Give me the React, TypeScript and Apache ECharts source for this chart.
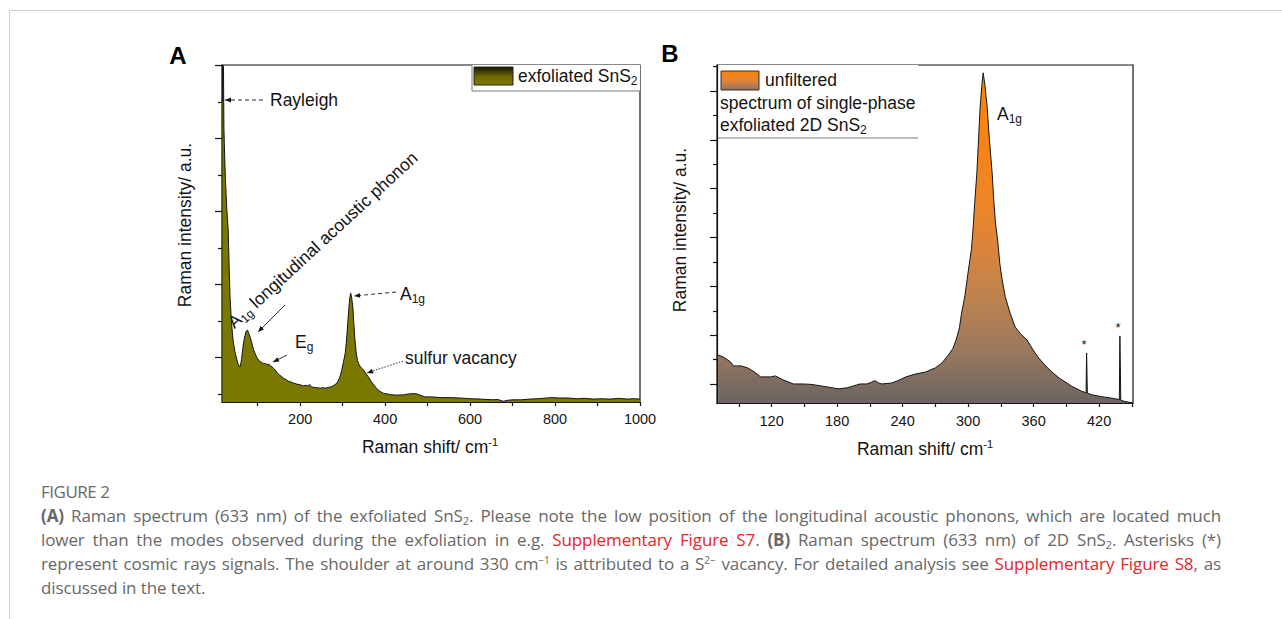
import React, { useEffect, useRef } from "react";
import * as echarts from "echarts";

// ---------- Panel A: exfoliated SnS2 (Raman shift cm-1, intensity a.u.) ----------
const shiftA = [17, 18.5, 19.5, 20.5, 22, 24, 27, 30.6, 33, 35, 38, 42, 46, 49.4, 53, 56, 59, 62, 64.5, 66.6, 70, 73, 76, 79, 82, 86, 90, 94, 98, 102, 106, 110, 114, 118, 122, 126, 130, 134, 138, 141, 146, 151, 156, 160, 166, 172, 178, 184, 192, 200, 208, 214, 218, 222, 226, 232, 240, 247, 254, 260, 266, 271, 276, 281, 287, 292, 295, 298, 302, 306, 309, 312, 315, 317, 319, 321, 324, 326, 329, 332, 335, 337, 341, 345, 349, 355, 361, 367, 373, 380, 388, 396, 405, 415, 425, 435, 445, 455, 466, 475, 484, 494, 510, 530, 550, 576, 600, 625, 654, 665, 678, 690, 701, 720, 740, 760, 780, 796, 810, 830, 850, 870, 890, 910, 930, 950, 970, 985, 1000];
const intensityA = [8.0, 9.0, 8.9, 7.3, 6.6, 5.9, 5.12, 4.49, 3.4, 2.66, 2.0, 1.48, 1.18, 1.01, 0.85, 0.77, 0.75, 0.95, 1.2, 1.39, 1.6, 1.72, 1.75, 1.66, 1.57, 1.4, 1.22, 1.11, 1.0, 0.93, 0.89, 0.86, 0.83, 0.84, 0.8, 0.82, 0.77, 0.74, 0.7, 0.66, 0.58, 0.52, 0.48, 0.44, 0.4, 0.35, 0.33, 0.3, 0.27, 0.25, 0.22, 0.24, 0.22, 0.26, 0.2, 0.18, 0.17, 0.16, 0.17, 0.16, 0.18, 0.19, 0.21, 0.25, 0.3, 0.42, 0.52, 0.66, 0.88, 1.11, 1.45, 1.94, 2.4, 2.65, 2.76, 2.65, 2.39, 2.0, 1.48, 1.12, 0.92, 0.84, 0.76, 0.7, 0.66, 0.56, 0.46, 0.35, 0.25, 0.15, 0.07, 0.02, 0.0, -0.02, -0.03, -0.03, -0.02, 0.0, 0.01, 0.0, -0.04, -0.08, -0.08, -0.1, -0.1, -0.11, -0.13, -0.14, -0.16, -0.15, -0.2, -0.17, -0.16, -0.16, -0.14, -0.13, -0.11, -0.1, -0.11, -0.11, -0.13, -0.12, -0.14, -0.13, -0.14, -0.12, -0.14, -0.13, -0.14];

// ---------- Panel B: single-phase exfoliated 2D SnS2 ----------
const shiftB = [71, 76, 82.5, 85, 92, 98, 104, 110, 119, 123.5, 131, 140, 149, 157, 165, 171, 181, 189, 195, 201, 207, 211, 214.5, 218, 221, 230, 236, 243, 252, 261, 270, 276, 282, 286, 289, 292, 294, 297, 299, 301, 303, 304.6, 306, 308, 309.5, 311, 312.5, 313.8, 315.5, 317.4, 319.5, 322, 323.5, 325, 327, 329, 331, 334, 338.5, 343, 348, 354, 359.5, 364, 368.6, 373, 377.8, 384, 390.5, 395, 399.7, 404, 408, 408.5, 409.2, 414, 422, 430, 438.5, 439, 439.8, 442, 451];
const intensityB = [1.19, 1.1, 0.9, 0.74, 0.74, 0.66, 0.5, 0.29, 0.29, 0.33, 0.16, 0.0, 0.0, -0.02, -0.08, -0.12, -0.2, -0.16, -0.08, 0.0, 0.0, 0.06, 0.14, 0.04, 0.0, 0.04, 0.14, 0.29, 0.41, 0.49, 0.66, 0.86, 1.19, 1.45, 1.8, 2.3, 2.9, 3.6, 4.26, 4.9, 5.5, 6.4, 7.4, 8.65, 10.0, 11.35, 12.2, 12.75, 12.2, 11.35, 10.0, 8.65, 7.5, 6.6, 5.9, 4.95, 4.3, 3.57, 2.9, 2.34, 2.05, 1.8, 1.39, 1.1, 0.86, 0.65, 0.45, 0.22, 0.04, -0.1, -0.2, -0.3, -0.36, 1.27, -0.38, -0.45, -0.52, -0.57, -0.64, 1.97, -0.66, -0.7, -0.78];

// ---------- Axis ticks ----------
const labelsA = [200, 400, 600, 800, 1000];
const ticksXA = [100, 200, 300, 400, 500, 600, 700, 800, 900, 1000];
const majorYA = [1, 3, 5, 7, 9];
const minorYA = [0, 2, 4, 6, 8];
const labelsB = [120, 180, 240, 300, 360, 420];
const ticksXB = [90, 120, 150, 180, 210, 240, 270, 300, 330, 360, 390, 420, 450];
const majorYB = [0, 2, 4, 6, 8, 10, 12];
const minorYB = [1, 3, 5, 7, 9, 11, 13];

const FONT = "Liberation Sans, Arial, sans-serif";
const INK = "#141414";
const FS = 17.5;

function arrowHead(x1: number, y1: number, x2: number, y2: number, len = 6, half = 2.4) {
  const dx = x2 - x1, dy = y2 - y1;
  const L = Math.sqrt(dx * dx + dy * dy);
  const ux = dx / L, uy = dy / L;
  const bx = x2 - ux * len, by = y2 - uy * len;
  return {
    type: "polygon",
    shape: { points: [[x2, y2], [bx - uy * half, by + ux * half], [bx + uy * half, by - ux * half]] },
    style: { fill: INK },
    silent: true,
  };
}
function arrowLine(x1: number, y1: number, x2: number, y2: number, dash?: number[]) {
  return [
    { type: "line", shape: { x1, y1, x2, y2 }, style: { stroke: INK, lineWidth: 0.9, lineDash: dash || null }, silent: true },
    arrowHead(x1, y1, x2, y2),
  ];
}
const richBase = {
  a: { fontSize: FS, fontFamily: FONT, fill: INK, lineHeight: 22 },
  s: { fontSize: 12, fontFamily: FONT, fill: INK, lineHeight: 10, verticalAlign: "bottom" },
  p: { fontSize: 11, fontFamily: FONT, fill: INK, lineHeight: 11, verticalAlign: "top" },
};
function rtext(x: number, y: number, text: string, extra: any = {}) {
  return {
    type: "text",
    x, y,
    silent: true,
    ...extra,
    style: { text, rich: richBase, fontSize: FS, fontFamily: FONT, fill: INK, align: "left", verticalAlign: "middle", ...(extra.style || {}) },
  };
}

export default function App() {
  const ref = useRef<HTMLDivElement>(null);
  useEffect(() => {
    if (!ref.current) return;
    const chart = echarts.init(ref.current, null, { renderer: "svg" });
    const axisLineStyle = { color: INK, width: 1.2 };
    const xBase = (gridIndex: number, min: number, max: number, labels: number[], ticks: number[], margin: number) => ({
      type: "value", gridIndex, min, max,
      axisLine: { show: true, onZero: false, lineStyle: axisLineStyle },
      axisTick: { show: true, customValues: ticks, length: 4, lineStyle: axisLineStyle },
      axisLabel: { show: true, customValues: labels, color: INK, fontSize: 14.5, fontFamily: FONT, margin, formatter: (v: number) => String(v) },
      splitLine: { show: false },
    });
    const yBase = (gridIndex: number, min: number, max: number, ticks: number[], len: number, line: boolean) => ({
      type: "value", gridIndex, min, max, position: "left", offset: 0,
      axisLine: { show: line, onZero: false, lineStyle: axisLineStyle },
      axisTick: { show: true, customValues: ticks, length: len, lineStyle: axisLineStyle },
      axisLabel: { show: false },
      splitLine: { show: false },
    });
    const gradB = new echarts.graphic.LinearGradient(0, 0, 0, 1, [
      { offset: 0, color: "#ff8200" },
      { offset: 0.4, color: "#ee8529" },
      { offset: 0.65, color: "#c4844a" },
      { offset: 0.85, color: "#98775e" },
      { offset: 1, color: "#6b6462" },
    ]);
    const option: any = {
      animation: false,
      grid: [
        { left: 222, top: 65, width: 418, height: 337, show: true, borderColor: INK, borderWidth: 1.2, backgroundColor: "transparent" },
        { left: 717, top: 65, width: 416, height: 338, show: true, borderColor: INK, borderWidth: 1.2, backgroundColor: "transparent" },
      ],
      xAxis: [xBase(0, 16, 1000, labelsA, ticksXA, 9), xBase(1, 70, 451, labelsB, ticksXB, 10)],
      yAxis: [
        yBase(0, -0.22, 9.01, majorYA, 7, true),
        yBase(0, -0.22, 9.01, minorYA, 4, false),
        yBase(1, -0.78, 13.07, majorYB, 7, true),
        yBase(1, -0.78, 13.07, minorYB, 4, false),
      ],
      series: [
        {
          type: "line", xAxisIndex: 0, yAxisIndex: 0,
          data: shiftA.map((x, i) => [x, intensityA[i]]),
          symbol: "none", showSymbol: false,
          lineStyle: { color: INK, width: 1 },
          areaStyle: { color: "#7b7800", opacity: 1, origin: "start" },
        },
        {
          type: "line", xAxisIndex: 1, yAxisIndex: 2,
          data: shiftB.map((x, i) => [x, intensityB[i]]),
          symbol: "none", showSymbol: false,
          lineStyle: { color: INK, width: 1 },
          areaStyle: { color: gradB, opacity: 1, origin: "start" },
        },
      ],
      graphic: [
        // panel letters
        { type: "text", x: 178, y: 55, silent: true, style: { text: "A", font: "bold 24px " + FONT, fill: "#000", align: "center", verticalAlign: "middle" } },
        { type: "text", x: 670, y: 53, silent: true, style: { text: "B", font: "bold 24px " + FONT, fill: "#000", align: "center", verticalAlign: "middle" } },
        // axis titles
        { type: "text", x: 185, y: 225, rotation: Math.PI / 2, silent: true, style: { text: "Raman intensity/ a.u.", fontSize: FS, fontFamily: FONT, fill: INK, align: "center", verticalAlign: "middle" } },
        { type: "text", x: 680, y: 230, rotation: Math.PI / 2, silent: true, style: { text: "Raman intensity/ a.u.", fontSize: FS, fontFamily: FONT, fill: INK, align: "center", verticalAlign: "middle" } },
        rtext(430, 447, "{a|Raman shift/ cm}{p|-1}", { style: { align: "center" } }),
        rtext(925, 449, "{a|Raman shift/ cm}{p|-1}", { style: { align: "center" } }),
        // legend A
        { type: "rect", shape: { x: 472, y: 65, width: 168, height: 26 }, style: { fill: "#fff" }, silent: true },
        { type: "line", shape: { x1: 472, y1: 65, x2: 472, y2: 91 }, style: { stroke: "#7a7a7a", lineWidth: 1 }, silent: true },
        { type: "line", shape: { x1: 472, y1: 91, x2: 640, y2: 91 }, style: { stroke: "#7a7a7a", lineWidth: 1 }, silent: true },
        {
          type: "rect", shape: { x: 474, y: 67, width: 39, height: 18 }, silent: true,
          style: { fill: new echarts.graphic.LinearGradient(0, 0, 0, 1, [{ offset: 0, color: "#151500" }, { offset: 0.55, color: "#6f6c00" }, { offset: 1, color: "#7d7a00" }]), stroke: "#222", lineWidth: 1 },
        },
        rtext(518, 76, "{a|exfoliated SnS}{s|2}"),
        // legend B
        { type: "rect", shape: { x: 717, y: 65, width: 201, height: 73 }, style: { fill: "#fff" }, silent: true },
        { type: "line", shape: { x1: 717, y1: 138, x2: 918, y2: 138 }, style: { stroke: "#7a7a7a", lineWidth: 1 }, silent: true },
        {
          type: "rect", shape: { x: 721, y: 71, width: 38, height: 19 }, silent: true,
          style: { fill: new echarts.graphic.LinearGradient(0, 0, 0, 1, [{ offset: 0, color: "#ff8200" }, { offset: 0.5, color: "#e2843a" }, { offset: 1, color: "#8f7360" }]), stroke: "#333", lineWidth: 1 },
        },
        rtext(765, 80, "{a|unfiltered}"),
        rtext(720, 103, "{a|spectrum of single-phase}"),
        rtext(720, 125, "{a|exfoliated 2D SnS}{s|2}"),
        // annotations A
        rtext(270, 100, "{a|Rayleigh}"),
        ...arrowLine(263, 100, 225, 100, [4, 3]),
        rtext(238, 333, "{a|A}{s|1g}{a| longitudinal acoustic phonon}", { rotation: 0.745, style: { verticalAlign: "bottom" } }),
        ...arrowLine(285, 305, 258, 332),
        rtext(295, 342, "{a|E}{s|g}"),
        ...arrowLine(287, 355, 273, 362),
        rtext(400, 294, "{a|A}{s|1g}"),
        ...arrowLine(396, 292, 354, 296, [4, 3]),
        rtext(405, 358, "{a|sulfur vacancy}"),
        ...arrowLine(403, 361, 367, 373, [1.5, 1.5]),
        // annotations B
        rtext(997, 114, "{a|A}{s|1g}"),
        { type: "text", x: 1084, y: 344, silent: true, style: { text: "*", fontSize: 13, fontFamily: FONT, fill: INK, align: "center", verticalAlign: "middle" } },
        { type: "text", x: 1118, y: 327, silent: true, style: { text: "*", fontSize: 13, fontFamily: FONT, fill: INK, align: "center", verticalAlign: "middle" } },
      ],
    };
    chart.setOption(option);
    return () => chart.dispose();
  }, []);

  const red = { color: "#e3262b" };
  const sub = { fontSize: 11, verticalAlign: "-3px", lineHeight: 0 } as React.CSSProperties;
  const sup = { fontSize: 10, verticalAlign: "6px", lineHeight: 0 } as React.CSSProperties;
  const lineStyle: React.CSSProperties = { textAlign: "justify", textAlignLast: "justify", height: 24, whiteSpace: "normal" };
  return (
    <div style={{ position: "fixed", left: 0, top: 0, width: 1282, height: 619, background: "#fff", overflow: "hidden" }}>
      <div style={{ position: "absolute", left: 9, top: 10, width: 1273, height: 609, borderTop: "1px solid #cfcfcf", borderLeft: "1px solid #cfcfcf" }} />
      <div ref={ref} style={{ position: "absolute", left: 0, top: 0, width: 1282, height: 619 }} />
      <div style={{ position: "absolute", left: 41, top: 480, width: 1180, fontFamily: "'Open Sans', Lato, sans-serif", fontSize: 17, letterSpacing: -0.1, lineHeight: "24px", color: "#686868" }}>
        <div style={{ height: 24, color: "#6a6a6a", fontSize: 17, letterSpacing: -0.5 }}>FIGURE 2</div>
        <div style={lineStyle}>
          <b>(A)</b> Raman spectrum (633 nm) of the exfoliated SnS<span style={sub}>2</span>. Please note the low position of the longitudinal acoustic phonons, which are located much
        </div>
        <div style={lineStyle}>
          lower than the modes observed during the exfoliation in e.g. <span style={red}>Supplementary Figure S7</span>. <b>(B)</b> Raman spectrum (633 nm) of 2D SnS<span style={sub}>2</span>. Asterisks (*)
        </div>
        <div style={lineStyle}>
          represent cosmic rays signals. The shoulder at around 330 cm<span style={sup}>−1</span> is attributed to a S<span style={sup}>2−</span> vacancy. For detailed analysis see <span style={red}>Supplementary Figure S8</span>, as
        </div>
        <div style={{ height: 24 }}>discussed in the text.</div>
      </div>
    </div>
  );
}
